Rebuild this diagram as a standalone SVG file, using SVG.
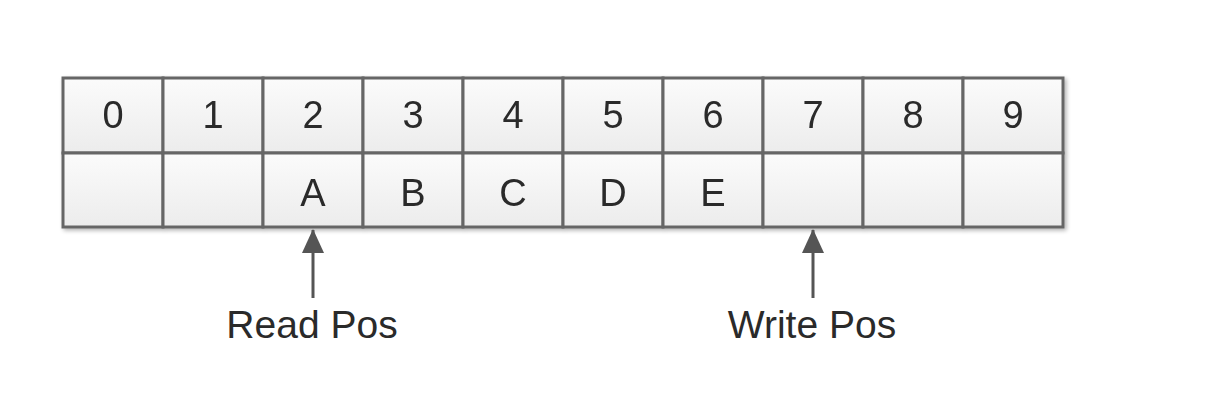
<svg xmlns="http://www.w3.org/2000/svg" width="1226" height="414" viewBox="0 0 1226 414">
<defs>
<linearGradient id="g" x1="0" y1="0" x2="0" y2="1">
<stop offset="0" stop-color="#fbfbfb"/>
<stop offset="1" stop-color="#ececec"/>
</linearGradient>
<filter id="sh" x="-5%" y="-20%" width="110%" height="140%">
<feGaussianBlur in="SourceAlpha" stdDeviation="2"/>
<feOffset dx="2" dy="2" result="b"/>
<feComponentTransfer><feFuncA type="linear" slope="0.3"/></feComponentTransfer>
<feMerge><feMergeNode/><feMergeNode in="SourceGraphic"/></feMerge>
</filter>
<marker id="ah" viewBox="0 0 24 22" refX="23" refY="11" markerWidth="24" markerHeight="22" markerUnits="userSpaceOnUse" orient="auto">
<path d="M0 0 L24 11 L0 22 Z" fill="#555"/>
</marker>
</defs>
<style>
.c{fill:url(#g);stroke:#666;stroke-width:3}
.t{font-family:"Liberation Sans",Arial,sans-serif;font-size:38px;fill:#2a2a2a;text-anchor:middle}
.l{font-family:"Liberation Sans",Arial,sans-serif;font-size:39px;fill:#2a2a2a;text-anchor:middle}
.a{stroke:#555;stroke-width:3;fill:none}
</style>
<g id="buffer" filter="url(#sh)">
<g id="cell-0"><rect class="c" x="63" y="78" width="100" height="75"/><rect class="c" x="63" y="153" width="100" height="74"/><text class="t" x="113" y="128">0</text></g>
<g id="cell-1"><rect class="c" x="163" y="78" width="100" height="75"/><rect class="c" x="163" y="153" width="100" height="74"/><text class="t" x="213" y="128">1</text></g>
<g id="cell-2"><rect class="c" x="263" y="78" width="100" height="75"/><rect class="c" x="263" y="153" width="100" height="74"/><text class="t" x="313" y="128">2</text><text class="t" x="313" y="206">A</text></g>
<g id="cell-3"><rect class="c" x="363" y="78" width="100" height="75"/><rect class="c" x="363" y="153" width="100" height="74"/><text class="t" x="413" y="128">3</text><text class="t" x="413" y="206">B</text></g>
<g id="cell-4"><rect class="c" x="463" y="78" width="100" height="75"/><rect class="c" x="463" y="153" width="100" height="74"/><text class="t" x="513" y="128">4</text><text class="t" x="513" y="206">C</text></g>
<g id="cell-5"><rect class="c" x="563" y="78" width="100" height="75"/><rect class="c" x="563" y="153" width="100" height="74"/><text class="t" x="613" y="128">5</text><text class="t" x="613" y="206">D</text></g>
<g id="cell-6"><rect class="c" x="663" y="78" width="100" height="75"/><rect class="c" x="663" y="153" width="100" height="74"/><text class="t" x="713" y="128">6</text><text class="t" x="713" y="206">E</text></g>
<g id="cell-7"><rect class="c" x="763" y="78" width="100" height="75"/><rect class="c" x="763" y="153" width="100" height="74"/><text class="t" x="813" y="128">7</text></g>
<g id="cell-8"><rect class="c" x="863" y="78" width="100" height="75"/><rect class="c" x="863" y="153" width="100" height="74"/><text class="t" x="913" y="128">8</text></g>
<g id="cell-9"><rect class="c" x="963" y="78" width="100" height="75"/><rect class="c" x="963" y="153" width="100" height="74"/><text class="t" x="1013" y="128">9</text></g>
</g>
<g id="read-pos"><text class="l" x="312" y="338">Read Pos</text></g>
<g id="write-pos"><text class="l" x="812" y="338">Write Pos</text></g>
<g id="connectors">
<line class="a" x1="313" y1="298" x2="313" y2="230" marker-end="url(#ah)"/>
<line class="a" x1="813" y1="298" x2="813" y2="230" marker-end="url(#ah)"/>
</g>
</svg>
